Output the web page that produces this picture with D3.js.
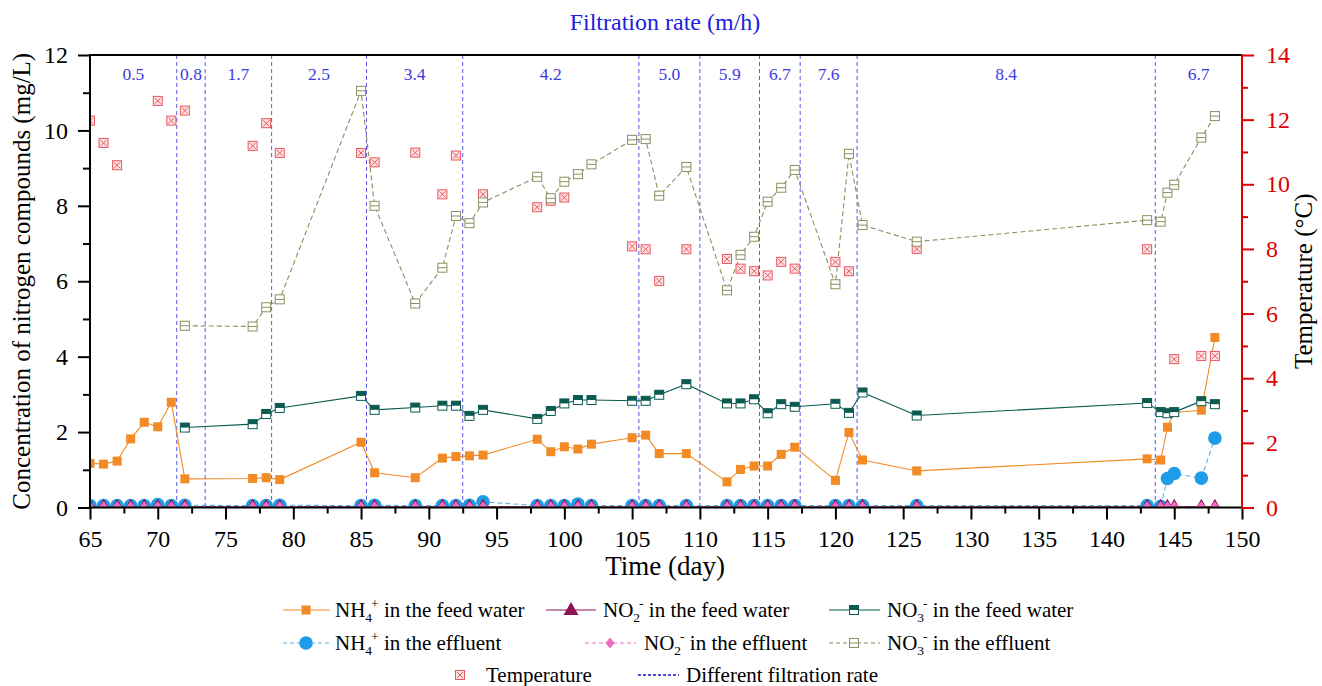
<!DOCTYPE html>
<html><head><meta charset="utf-8">
<script src="https://cdn.jsdelivr.net/npm/d3@7"></script>
<style>
body{margin:0;background:#fff;}
svg text{font-family:"Liberation Serif","Times New Roman",serif;}
</style></head>
<body><svg id="c" width="1322" height="686"></svg>
<script>
// ---------------- data ----------------
const feedDays = [65,66,67,68,69,70,71,72,77,78,79,85,86,89,91,92,93,94,98,99,100,101,102,105,106,107,109,112,113,114,115,116,117,120,121,122,126,143,144,144.5,145,147,148];
const nh4Feed  = [1.17,1.15,1.23,1.82,2.26,2.14,2.79,0.76,0.77,0.79,0.74,1.73,0.92,0.79,1.31,1.35,1.37,1.39,1.81,1.48,1.61,1.55,1.68,1.85,1.92,1.43,1.43,0.68,1.01,1.10,1.10,1.41,1.60,0.72,1.99,1.26,0.97,1.29,1.26,2.13,2.52,2.58,4.51];
const no2Feed  = [0.02,0.02,0.02,0.02,0.02,0.02,0.02,0.02,0.02,0.02,0.02,0.02,0.02,0.02,0.02,0.02,0.02,0.02,0.02,0.02,0.02,0.02,0.02,0.02,0.02,0.02,0.02,0.02,0.02,0.02,0.02,0.02,0.02,0.02,0.02,0.02,0.02,0.02,0.02,0.02,0.02,0.02,0.02];
const effDays  = [65,66,67,68,69,70,71,72,77,78,79,85,86,89,91,92,93,94,98,99,100,101,102,105,106,107,109,112,113,114,115,116,117,120,121,122,126,143,144,144.5,145,147,148];
const nh4Eff   = [0.05,0.05,0.05,0.05,0.05,0.08,0.05,0.06,0.05,0.05,0.06,0.05,0.06,0.05,0.05,0.05,0.06,0.15,0.05,0.05,0.05,0.09,0.05,0.05,0.05,0.05,0.05,0.05,0.05,0.05,0.05,0.05,0.05,0.05,0.05,0.05,0.05,0.05,0.03,0.77,0.90,0.78,1.84];
const no2Eff   = [0.02,0.02,0.02,0.02,0.02,0.02,0.02,0.02,0.02,0.02,0.02,0.02,0.02,0.02,0.02,0.02,0.02,0.02,0.02,0.02,0.02,0.02,0.02,0.02,0.02,0.02,0.02,0.02,0.02,0.02,0.02,0.02,0.02,0.02,0.02,0.02,0.02,0.02,0.02,0.02,0.02,0.02,0.02];
const no3Days  = [72,77,78,79,85,86,89,91,92,93,94,98,99,100,101,102,105,106,107,109,112,113,114,115,116,117,120,121,122,126,143,144,144.5,145,147,148];
const no3Feed  = [2.12,2.21,2.48,2.64,2.96,2.59,2.65,2.70,2.70,2.43,2.59,2.35,2.56,2.76,2.85,2.85,2.83,2.83,2.99,3.27,2.76,2.76,2.87,2.50,2.74,2.67,2.75,2.51,3.05,2.44,2.77,2.53,2.50,2.53,2.82,2.74];
const no3Eff   = [4.82,4.80,5.31,5.52,11.05,8.00,5.41,6.36,7.73,7.54,8.09,8.77,8.20,8.64,8.84,9.10,9.75,9.77,8.27,9.03,5.76,6.70,7.18,8.11,8.48,8.95,5.92,9.38,7.49,7.05,7.62,7.58,8.35,8.56,9.81,10.38];
const tempDays = [65,66,67,70,71,72,77,78,79,85,86,89,91,92,94,98,99,100,105,106,107,109,112,113,114,115,116,117,120,121,126,143,145,147,148];
const tempVals = [11.97,11.28,10.59,12.58,11.97,12.28,11.19,11.89,10.97,10.97,10.68,10.98,9.69,10.89,9.69,9.29,9.49,9.59,8.08,7.99,7.01,7.99,7.69,7.39,7.31,7.18,7.60,7.39,7.60,7.31,8.00,7.99,4.59,4.69,4.69];
const rateBreaks = [71.4,73.5,78.4,85.4,92.5,105.5,110,114.4,117.4,121.6,143.6];
const rateLabels = ["0.5","0.8","1.7","2.5","3.4","4.2","5.0","5.9","6.7","7.6","8.4","6.7"];
const xTicks = [65,70,75,80,85,90,95,100,105,110,115,120,125,130,135,140,145,150];
const yTicks = [0,2,4,6,8,10,12];
const tTicks = [0,2,4,6,8,10,12,14];

// ---------------- layout ----------------
const svg = d3.select("#c");
const L=90,R=1242,T=55,B=507.5;
const x = d3.scaleLinear().domain([65,150]).range([L,R]);
const y = d3.scaleLinear().domain([0,12]).range([B,T]);
const yT = d3.scaleLinear().domain([0,14]).range([B,T]);

svg.append("defs").append("clipPath").attr("id","clip")
  .append("rect").attr("x",L).attr("y",T).attr("width",R-L).attr("height",B-T);

const C = {nh4f:"#f28a26", no2f:"#8c1456", no3f:"#0b5b50", nh4e:"#1e9ce8", nh4eLine:"#5ab2e4",
  no2e:"#f06cbf", no3e:"#8e8e5e", temp:"#e8555e", rate:"#3b3be0"};

const plot = svg.append("g").attr("clip-path","url(#clip)");
plot.selectAll("line.rate").data(rateBreaks).join("line")
  .attr("x1",d=>x(d)).attr("x2",d=>x(d)).attr("y1",T).attr("y2",B)
  .attr("stroke",C.rate).attr("stroke-width",1).attr("stroke-dasharray","4,3").attr("opacity",0.85);

const bounds=[65,...rateBreaks,150];
svg.selectAll("text.rate").data(rateLabels).join("text")
  .attr("x",(d,i)=>x((bounds[i]+bounds[i+1])/2)).attr("y",80)
  .attr("text-anchor","middle").attr("font-size",17.5).attr("fill",C.rate).text(d=>d);

function zip(a,b){return a.map((d,i)=>[d,b[i]]);}
function line(g,data,sc,color,dash,w){
  g.append("path").datum(data).attr("fill","none").attr("stroke",color).attr("stroke-width",w||1)
   .attr("stroke-dasharray",dash||null)
   .attr("d",d3.line().x(d=>x(d[0])).y(d=>sc(d[1])));
}
const sq=4.5;
function mTemp(g,px,py){
  g.append("rect").attr("x",px-sq).attr("y",py-sq).attr("width",2*sq).attr("height",2*sq)
   .attr("fill","#fde3e3").attr("stroke",C.temp).attr("stroke-width",1);
  g.append("path").attr("d",`M${px-sq+1.5},${py-sq+1.5}L${px+sq-1.5},${py+sq-1.5}M${px+sq-1.5},${py-sq+1.5}L${px-sq+1.5},${py+sq-1.5}`)
   .attr("stroke",C.temp).attr("stroke-width",1);
}
function mNo3e(g,px,py){
  g.append("rect").attr("x",px-sq).attr("y",py-sq).attr("width",2*sq).attr("height",2*sq)
   .attr("fill","#fff").attr("stroke",C.no3e).attr("stroke-width",1);
  g.append("line").attr("x1",px-sq).attr("x2",px+sq).attr("y1",py).attr("y2",py).attr("stroke",C.no3e);
}
function mNo3f(g,px,py){
  g.append("rect").attr("x",px-sq).attr("y",py-sq).attr("width",2*sq).attr("height",2*sq)
   .attr("fill","#fff").attr("stroke",C.no3f).attr("stroke-width",1);
  g.append("rect").attr("x",px-sq).attr("y",py-sq).attr("width",2*sq).attr("height",sq).attr("fill",C.no3f);
}
function mNh4f(g,px,py){
  g.append("rect").attr("x",px-sq).attr("y",py-sq).attr("width",2*sq).attr("height",2*sq).attr("fill",C.nh4f);
}
function mNh4e(g,px,py){ g.append("circle").attr("cx",px).attr("cy",py).attr("r",6.8).attr("fill",C.nh4e); }
function mNo2f(g,px,py){
  g.append("path").attr("d",`M${px},${py-8}L${px+7.5},${py+5}L${px-7.5},${py+5}Z`).attr("fill",C.no2f);
}
function mNo2e(g,px,py){
  g.append("path").attr("d",`M${px},${py-5.5}L${px+4.5},${py}L${px},${py+5.5}L${px-4.5},${py}Z`).attr("fill",C.no2e);
}

const dTemp=zip(tempDays,tempVals), dNo3e=zip(no3Days,no3Eff), dNo3f=zip(no3Days,no3Feed),
      dNh4f=zip(feedDays,nh4Feed), dNh4e=zip(effDays,nh4Eff), dNo2f=zip(feedDays,no2Feed), dNo2e=zip(effDays,no2Eff);

line(plot,dNo3e,y,C.no3e,"5,3",1.1);
line(plot,dNh4f,y,C.nh4f,null,1.1);
line(plot,dNo3f,y,C.no3f,null,1.1);
line(plot,dNh4e,y,C.nh4eLine,"5,3",1.1);
line(plot,dNo2f,y,C.no2f,null,1);
line(plot,dNo2e,y,C.no2e,"4,3",1);
dTemp.forEach(d=>mTemp(plot,x(d[0]),yT(d[1])));
dNo3e.forEach(d=>mNo3e(plot,x(d[0]),y(d[1])));
dNh4f.forEach(d=>mNh4f(plot,x(d[0]),y(d[1])));
dNo3f.forEach(d=>mNo3f(plot,x(d[0]),y(d[1])));
dNh4e.forEach(d=>mNh4e(plot,x(d[0]),y(d[1])));
dNo2f.forEach(d=>mNo2f(plot,x(d[0]),y(d[1])));
dNo2e.forEach(d=>mNo2e(plot,x(d[0]),y(d[1])));

// axes
function styleAx(g,color){
  g.selectAll(".domain").remove();
  g.selectAll("line").attr("stroke",color).attr("stroke-width",2);
  g.selectAll("text").attr("font-size",24).attr("fill",color).attr("font-family","Liberation Serif");
}
const minorX=xTicks.slice(0,-1).map(d=>d+2.5);
const gx=svg.append("g").attr("transform",`translate(0,${B})`)
  .call(d3.axisBottom(x).tickValues(xTicks).tickSize(12).tickPadding(10).tickFormat(d3.format("d")));
styleAx(gx,"#000");
const gx2=svg.append("g").attr("transform",`translate(0,${B})`)
  .call(d3.axisBottom(x).tickValues(minorX).tickSize(6).tickFormat(""));
styleAx(gx2,"#000");
const gy=svg.append("g").attr("transform",`translate(${L},0)`)
  .call(d3.axisLeft(y).tickValues(yTicks).tickSize(12).tickPadding(10).tickFormat(d3.format("d")));
styleAx(gy,"#000");
const gy2=svg.append("g").attr("transform",`translate(${L},0)`)
  .call(d3.axisLeft(y).tickValues(yTicks.slice(0,-1).map(d=>d+1)).tickSize(7).tickFormat(""));
styleAx(gy2,"#000");
const gr=svg.append("g").attr("transform",`translate(${R},0)`)
  .call(d3.axisRight(yT).tickValues(tTicks).tickSize(12).tickPadding(12).tickFormat(d3.format("d")));
styleAx(gr,"#e00000");
const gr2=svg.append("g").attr("transform",`translate(${R},0)`)
  .call(d3.axisRight(yT).tickValues(tTicks.slice(0,-1).map(d=>d+1)).tickSize(6).tickFormat(""));
styleAx(gr2,"#e00000");
svg.append("line").attr("x1",L).attr("x2",R).attr("y1",T).attr("y2",T).attr("stroke","#000").attr("stroke-width",2);
svg.append("line").attr("x1",L).attr("x2",R).attr("y1",B).attr("y2",B).attr("stroke","#000").attr("stroke-width",2);
svg.append("line").attr("x1",L).attr("x2",L).attr("y1",T-1).attr("y2",B+1).attr("stroke","#000").attr("stroke-width",2);
svg.append("line").attr("x1",R).attr("x2",R).attr("y1",T-1).attr("y2",B+1).attr("stroke","#e00000").attr("stroke-width",2);

// titles
svg.append("text").attr("x",665).attr("y",30).attr("text-anchor","middle").attr("font-size",24)
  .attr("fill","#2020e0").text("Filtration rate (m/h)");
svg.append("text").attr("x",665).attr("y",575).attr("text-anchor","middle").attr("font-size",27).text("Time (day)");
svg.append("text").attr("transform",`translate(30,${(T+B)/2}) rotate(-90)`).attr("text-anchor","middle")
  .attr("font-size",25).text("Concentration of nitrogen compounds (mg/L)");
svg.append("text").attr("transform",`translate(1312,${(T+B)/2}) rotate(-90)`).attr("text-anchor","middle")
  .attr("font-size",25).text("Temperature (°C)");

// legend
const lg=svg.append("g");
function ltext(px,py,ion,sub,sup,rest){
  const t=lg.append("text").attr("x",px).attr("y",py).attr("font-size",21);
  t.append("tspan").text(ion);
  t.append("tspan").attr("font-size",13.5).attr("dy",5).text(sub);
  t.append("tspan").attr("font-size",13.5).attr("dx",-1).attr("dy",-14).text(sup);
  t.append("tspan").attr("dy",9).text(rest);
}
function lsym(px,py,x1,x2,color,dash,mk){
  lg.append("line").attr("x1",x1).attr("x2",x2).attr("y1",py).attr("y2",py)
    .attr("stroke",color).attr("stroke-width",1.2).attr("stroke-dasharray",dash||null);
  mk(lg,px,py);
}
const r1=617,r2=650,r3=682;
lsym(306,r1-7,283,330,C.nh4f,null,mNh4f); ltext(335,r1,"NH","4","+"," in the feed water");
lsym(571,r1-7,546,596,C.no2f,null,mNo2f); ltext(603,r1,"NO","2","-"," in the feed water");
lsym(854,r1-7,829,880,C.no3f,null,mNo3f); ltext(887,r1,"NO","3","-"," in the feed water");
lsym(306,r2-7,283,330,C.nh4eLine,"4,3",mNh4e); ltext(335,r2,"NH","4","+"," in the effluent");
lsym(610,r2-7,585,636,C.no2e,"4,3",mNo2e); ltext(644,r2,"NO","2","-"," in the effluent");
lsym(854,r2-7,829,880,C.no3e,"4,3",mNo3e); ltext(887,r2,"NO","3","-"," in the effluent");
mTemp(lg,460,r3-7);
lg.append("text").attr("x",486).attr("y",r3).attr("font-size",21).text("Temperature");
lg.append("line").attr("x1",638).attr("x2",679).attr("y1",r3-7).attr("y2",r3-7).attr("stroke","#1010d0")
  .attr("stroke-width",1.6).attr("stroke-dasharray","3,2");
lg.append("text").attr("x",686).attr("y",r3).attr("font-size",21).text("Different filtration rate");
</script></body></html>
